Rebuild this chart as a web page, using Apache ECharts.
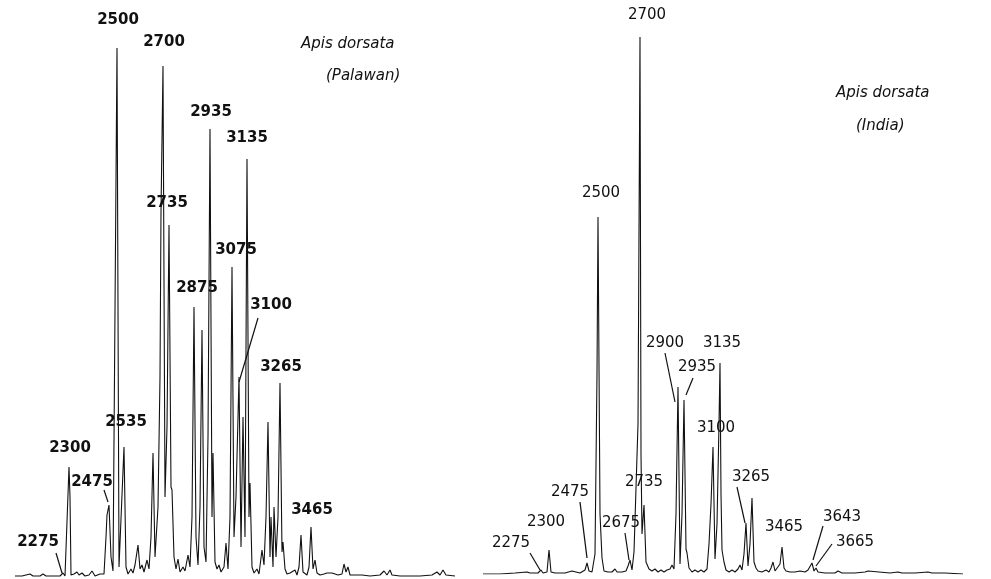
<!DOCTYPE html>
<html>
<head>
<meta charset="utf-8">
<script src="https://cdn.jsdelivr.net/npm/echarts@6/dist/echarts.min.js"></script>
<style>html,body{margin:0;padding:0;background:#fff}#c{width:991px;height:579px}</style>
</head>
<body>
<div id="c"></div>
<script>
// ---- Data (arbitrary retention units / detector response) ----
const palawanTime = [15,22,30,33,40,43,46,55,60,63,65,67,69,70,71,74,77,79,82,85,89,92,95,100,104,106,107,109,111,113,115,117,119,121,124,126,128,131,133,135,138,140,142,144,147,149,151,153,155,158,160,161,163,165,167,169,171,172,174,176,178,180,183,185,188,190,192,194,196,198,200,202,204,206,208,210,212,213,215,217,219,221,224,226,228,230,232,234,236,239,241,243,245,247,249,250,252,254,257,259,262,264,266,268,270,271,273,274,276,278,280,282,283,285,287,290,292,295,297,299,301,303,305,307,309,311,313,315,317,320,324,327,329,332,334,338,342,344,346,348,350,355,362,370,380,384,387,390,392,400,420,432,437,440,443,446,455];
const palawanSignal = [1,1,3,1,1,3,1,1,1,4,1,2,110,80,2,3,5,2,4,1,2,6,1,3,3,40,62,72,20,6,4,529,10,8,130,10,3,8,4,12,32,8,12,5,17,8,40,124,20,70,200,365,511,80,150,352,90,87,20,8,18,5,10,6,22,10,60,270,40,12,70,247,30,15,140,448,60,124,15,8,12,5,10,34,8,60,310,40,80,200,30,160,40,418,60,94,10,4,8,3,27,12,60,155,20,60,10,70,20,60,194,25,35,8,3,4,2,7,2,10,42,5,3,2,10,50,8,17,4,2,3,4,2,4,2,2,3,13,5,10,2,2,2,1,2,6,2,7,2,1,1,2,5,2,7,2,1];
const palawanLabels = ['2275','2300','2475','2500','2535','2700','2735','2875','2935','3075','3100','3135','3265','3465'];

const indiaTime = [483,500,515,527,530,538,541,543,547,549,551,555,565,572,574,580,585,587,589,592,595,597,598,600,602,604,608,612,615,617,622,626,628,630,632,634,636,638,640,641,642,644,646,649,652,655,658,661,664,667,670,672,674,676,678,680,682,684,686,687,689,692,695,698,701,704,707,709,711,713,715,717,719,720,721,722,724,726,729,732,735,738,740,742,744,746,748,750,752,754,756,758,762,766,769,771,773,775,777,780,782,784,786,790,795,800,805,808,810,812,814,816,818,825,835,838,840,842,855,865,868,870,890,898,900,902,915,928,930,932,945,963];
const indiaSignal = [0,0,1,2,1,1,4,1,2,24,2,1,1,3,1,1,4,11,3,2,20,200,357,60,16,3,2,2,5,2,2,3,8,14,4,22,20,150,537,120,40,69,12,5,3,5,2,4,2,4,5,9,5,60,187,10,60,174,25,21,6,2,4,2,4,2,5,30,70,127,15,50,150,211,80,24,12,4,2,4,2,5,9,4,20,51,8,30,76,12,6,3,2,4,2,6,12,3,4,10,27,6,3,2,2,3,2,4,6,11,3,6,2,1,1,3,4,1,1,2,3,1,1,2,4,1,1,2,2,1,1,0];
const indiaLabels = ['2275','2300','2475','2500','2675','2700','2735','2900','2935','3100','3135','3265','3465','3643','3665'];

const panelTitles = [['Apis dorsata','(Palawan)'],['Apis dorsata','(India)']];

// ---- Annotation layout (label anchor in data coords, optional leader line) ----
const palawanLayout = [
  {at:[38,35], lead:[[56,24],[62,4]]},
  {at:[70,129]},
  {at:[92,95], lead:[[104,87],[108,75]]},
  {at:[118,557]},
  {at:[126,155]},
  {at:[164,535]},
  {at:[167,374]},
  {at:[197,289]},
  {at:[211,465]},
  {at:[236,327]},
  {at:[271,272], lead:[[258,259],[239,195]]},
  {at:[247,439]},
  {at:[281,210]},
  {at:[312,67]}
];
const indiaLayout = [
  {at:[511,31], lead:[[530,21],[540,4]]},
  {at:[546,52]},
  {at:[570,82], lead:[[580,72],[587,16]]},
  {at:[601,381]},
  {at:[621,51], lead:[[625,41],[629,14]]},
  {at:[647,559]},
  {at:[644,92]},
  {at:[665,231], lead:[[665,221],[675,172]]},
  {at:[697,207], lead:[[693,196],[686,179]]},
  {at:[716,146]},
  {at:[722,231]},
  {at:[751,97], lead:[[737,87],[745,51]]},
  {at:[784,47]},
  {at:[842,57], lead:[[823,48],[813,14]]},
  {at:[855,32], lead:[[832,30],[816,8]]}
];

const FONT = '"DejaVu Sans", sans-serif';
function pairs(t, s){ return t.map((x,i)=>[x, s[i]]); }
function marks(labels, layout, weight){
  return {
    markPoint: {
      symbol: 'circle', symbolSize: 0, silent: true, animation: false,
      label: {show: true, position: 'inside', formatter: '{b}', color: '#111',
              fontFamily: FONT, fontSize: 15, fontWeight: weight},
      data: labels.map((t,i)=>({name: t, coord: layout[i].at}))
    },
    markLine: {
      symbol: 'none', silent: true, animation: false,
      label: {show: false},
      lineStyle: {color: '#111', width: 1.2, type: 'solid'},
      data: layout.filter(l=>l.lead).map(l=>[{coord:l.lead[0]},{coord:l.lead[1]}])
    }
  };
}

const chart = echarts.init(document.getElementById('c'), null, {renderer: 'canvas'});
const axisHidden = {show: false};
chart.setOption({
  animation: false,
  backgroundColor: '#fff',
  grid: [
    {left: 0, top: 0, width: 460, height: 577},
    {left: 480, top: 0, width: 500, height: 574}
  ],
  xAxis: [
    Object.assign({type: 'value', gridIndex: 0, min: 0, max: 460, splitLine:{show:false}}, axisHidden),
    Object.assign({type: 'value', gridIndex: 1, min: 480, max: 980, splitLine:{show:false}}, axisHidden)
  ],
  yAxis: [
    Object.assign({type: 'value', gridIndex: 0, min: 0, max: 577, splitLine:{show:false}}, axisHidden),
    Object.assign({type: 'value', gridIndex: 1, min: 0, max: 574, splitLine:{show:false}}, axisHidden)
  ],
  series: [
    Object.assign({
      type: 'line', xAxisIndex: 0, yAxisIndex: 0, showSymbol: false, symbol: 'none',
      lineStyle: {color: '#111', width: 1.1}, data: pairs(palawanTime, palawanSignal)
    }, marks(palawanLabels, palawanLayout, 'bold')),
    Object.assign({
      type: 'line', xAxisIndex: 1, yAxisIndex: 1, showSymbol: false, symbol: 'none',
      lineStyle: {color: '#111', width: 1.1}, data: pairs(indiaTime, indiaSignal)
    }, marks(indiaLabels, indiaLayout, 'normal'))
  ],
  graphic: [
    {type:'text', left: 301, top: 37, style:{text: panelTitles[0][0], font: 'italic 15px ' + FONT, fill:'#111'}},
    {type:'text', left: 326, top: 69, style:{text: panelTitles[0][1], font: 'italic 15px ' + FONT, fill:'#111'}},
    {type:'text', left: 836, top: 86, style:{text: panelTitles[1][0], font: 'italic 15px ' + FONT, fill:'#111'}},
    {type:'text', left: 856, top: 119, style:{text: panelTitles[1][1], font: 'italic 15px ' + FONT, fill:'#111'}}
  ]
});
</script>
</body>
</html>
